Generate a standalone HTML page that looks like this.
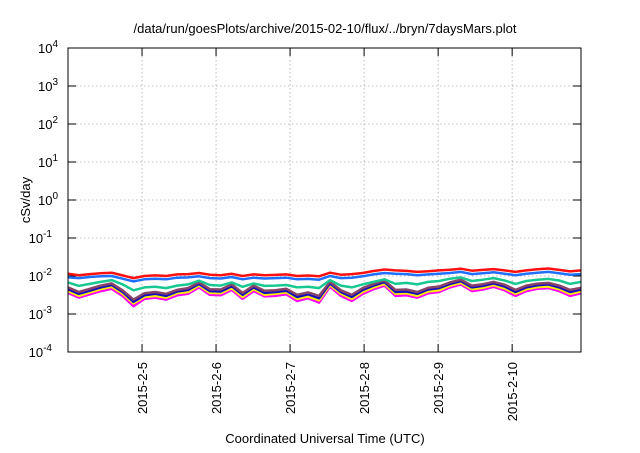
<!DOCTYPE html>
<html><head><meta charset="utf-8"><style>
body{margin:0;background:#fff;}
svg text{font-family:"Liberation Sans",sans-serif;fill:#000;}
</style></head><body>
<svg id="chart" width="640" height="448" viewBox="0 0 640 448" xmlns="http://www.w3.org/2000/svg">
<text x="325" y="33" font-size="13" text-anchor="middle">/data/run/goesPlots/archive/2015-02-10/flux/../bryn/7daysMars.plot</text>
<text transform="translate(30,200) rotate(-90)" font-size="13" text-anchor="middle">cSv/day</text>
<text x="325" y="443" font-size="13" text-anchor="middle">Coordinated Universal Time (UTC)</text>
<g id="grid"></g><g id="axes"></g><g id="series"></g>
<rect x="68" y="48" width="513" height="304" fill="none" stroke="#000" stroke-width="1"/>
</svg>
<script>
const yTickExps=[-4,-3,-2,-1,0,1,2,3,4];
const xTickLabels=["2015-2-5","2015-2-6","2015-2-7","2015-2-8","2015-2-9","2015-2-10"];
const xTickDays=[1,2,3,4,5,6];
const tStartDay=0, tEndDay=6.93;
const dataEndDay=6.93;
const red=[0.0115,0.0105,0.0112,0.0118,0.0122,0.0104,0.0088,0.0100,0.0104,0.0100,0.0110,0.0112,0.0120,0.0108,0.0105,0.0114,0.0100,0.0110,0.0105,0.0107,0.0110,0.0100,0.0103,0.0098,0.0122,0.0108,0.0112,0.0120,0.0135,0.0148,0.0140,0.0136,0.0128,0.0134,0.0140,0.0146,0.0156,0.0138,0.0145,0.0152,0.0140,0.0128,0.0140,0.0150,0.0158,0.0145,0.0132,0.0140];
const blue=[0.0092,0.0088,0.0094,0.0098,0.0100,0.0085,0.0072,0.0082,0.0085,0.0082,0.0090,0.0092,0.0098,0.0088,0.0086,0.0094,0.0082,0.0090,0.0086,0.0088,0.0090,0.0082,0.0084,0.0080,0.0100,0.0088,0.0090,0.0098,0.0110,0.0120,0.0115,0.0112,0.0105,0.0110,0.0115,0.0120,0.0128,0.0112,0.0118,0.0125,0.0115,0.0105,0.0115,0.0122,0.0128,0.0118,0.0108,0.0112];
const green=[0.0068,0.0055,0.0062,0.0070,0.0078,0.0060,0.0042,0.0050,0.0052,0.0048,0.0056,0.0060,0.0075,0.0058,0.0056,0.0068,0.0052,0.0064,0.0055,0.0056,0.0058,0.0050,0.0052,0.0048,0.0078,0.0056,0.0050,0.0060,0.0070,0.0082,0.0062,0.0066,0.0060,0.0070,0.0074,0.0085,0.0092,0.0074,0.0080,0.0088,0.0076,0.0062,0.0074,0.0080,0.0084,0.0076,0.0062,0.0070];
const purple=[0.0050,0.0038,0.0046,0.0056,0.0064,0.0042,0.0024,0.0035,0.0038,0.0034,0.0043,0.0048,0.0068,0.0045,0.0044,0.0060,0.0036,0.0056,0.0041,0.0042,0.0046,0.0032,0.0037,0.0030,0.0070,0.0042,0.0032,0.0048,0.0062,0.0076,0.0043,0.0044,0.0038,0.0049,0.0053,0.0068,0.0080,0.0056,0.0061,0.0070,0.0059,0.0043,0.0056,0.0063,0.0066,0.0056,0.0043,0.0049];
const darkblue=[0.0045,0.0034,0.0041,0.0050,0.0058,0.0038,0.0021,0.0031,0.0034,0.0030,0.0039,0.0043,0.0062,0.0040,0.0039,0.0054,0.0032,0.0050,0.0036,0.0038,0.0041,0.0028,0.0033,0.0026,0.0064,0.0038,0.0028,0.0043,0.0056,0.0069,0.0038,0.0039,0.0034,0.0044,0.0048,0.0062,0.0073,0.0050,0.0055,0.0064,0.0053,0.0038,0.0050,0.0057,0.0060,0.0050,0.0038,0.0044];
const yellow=[0.0040,0.0030,0.0037,0.0045,0.0052,0.0034,0.0019,0.0028,0.0030,0.0027,0.0035,0.0038,0.0056,0.0036,0.0035,0.0048,0.0028,0.0045,0.0032,0.0034,0.0037,0.0025,0.0029,0.0023,0.0058,0.0034,0.0025,0.0038,0.0050,0.0062,0.0034,0.0035,0.0030,0.0039,0.0042,0.0056,0.0066,0.0045,0.0049,0.0058,0.0047,0.0034,0.0045,0.0051,0.0053,0.0045,0.0034,0.0039];
const magenta=[0.0036,0.0027,0.0033,0.0040,0.0046,0.0030,0.0016,0.0025,0.0027,0.0024,0.0031,0.0034,0.0050,0.0032,0.0031,0.0043,0.0025,0.0040,0.0029,0.0030,0.0033,0.0022,0.0026,0.0020,0.0052,0.0030,0.0022,0.0034,0.0045,0.0056,0.0030,0.0031,0.0027,0.0035,0.0038,0.0050,0.0060,0.0040,0.0044,0.0052,0.0042,0.0030,0.0040,0.0046,0.0048,0.0040,0.0030,0.0035];

const L=68,R=581,T=48,B=352;
const NS="http://www.w3.org/2000/svg";
function xs(d){return L+(d-tStartDay)/(tEndDay-tStartDay)*(R-L);}
function ys(v){const e=Math.log10(v);return B-(e-(-4))/8*(B-T);}
function mk(tag,attrs,parent){const e=document.createElementNS(NS,tag);for(const k in attrs)e.setAttribute(k,attrs[k]);parent.appendChild(e);return e;}
const grid=document.getElementById('grid'),axes=document.getElementById('axes'),ser=document.getElementById('series');
yTickExps.forEach(ex=>{
  const y=B-(ex+4)/8*(B-T);
  if(ex>-4&&ex<4){const g=mk('line',{x1:L,x2:R,y1:y,y2:y,stroke:'#aaa','stroke-width':0.8,'stroke-dasharray':'1.5,2.5'},grid);
  }
  const t1=mk('line',{x1:L,x2:L+8,y1:y,y2:y,stroke:'#000'},axes);
  
  const t2=mk('line',{x1:R-8,x2:R,y1:y,y2:y,stroke:'#000'},axes);
  
  const tx=mk('text',{x:L-4-(String(ex).length*6),y:y+5,'font-size':13,'text-anchor':'end'},axes);
  
  tx.textContent='10';
  const sp=mk('tspan',{dy:-6,'font-size':10},tx);sp.textContent=String(ex);
});
xTickDays.forEach((d,i)=>{
  const x=xs(d);
  const g=mk('line',{x1:x,x2:x,y1:T,y2:B,stroke:'#aaa','stroke-width':0.8,'stroke-dasharray':'1.5,2.5'},grid);
  
  const t1=mk('line',{x1:x,x2:x,y1:B-8,y2:B,stroke:'#000'},axes);
  
  const t2=mk('line',{x1:x,x2:x,y1:T,y2:T+8,stroke:'#000'},axes);
  
  const tx=mk('text',{transform:`translate(${x+5},362) rotate(-90)`,'font-size':13,'text-anchor':'end'},axes);
  
  tx.textContent=xTickLabels[i];
});
const seriesList=[[magenta,'#ff00ff','magenta'],[yellow,'#ffee00','yellow'],[darkblue,'#1010c0','darkblue'],[purple,'#884466','purple'],[green,'#18c890','green'],[blue,'#2070ff','blue'],[red,'#ff1010','red']];
seriesList.forEach(([arr,col,nm])=>{
  const n=arr.length;
  const pts=arr.map((v,i)=>xs(tStartDay+i*(dataEndDay-tStartDay)/(n-1)).toFixed(1)+','+ys(v).toFixed(1)).join(' ');
  const p=mk('polyline',{points:pts,fill:'none',stroke:col,'stroke-width':2.5,'stroke-linejoin':'round'},ser);
  
});
</script>
</body></html>
